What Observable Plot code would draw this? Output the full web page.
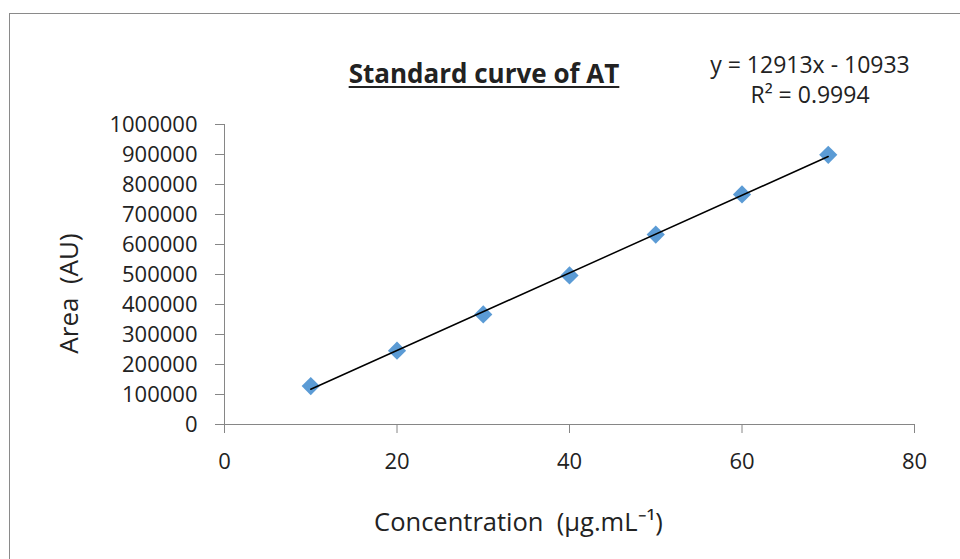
<!DOCTYPE html>
<html>
<head>
<meta charset="utf-8">
<script src="https://cdn.jsdelivr.net/npm/d3@7"></script>
<script src="https://cdn.jsdelivr.net/npm/@observablehq/plot@0.6"></script>
<style>
  html, body { margin: 0; padding: 0; background: #fff; }
  #wrap { position: relative; width: 960px; height: 559px; overflow: hidden; font-family: "Open Sans", sans-serif; color: #222; }
  #frame { position: absolute; left: 9px; top: 13px; width: 1000px; height: 600px; border-top: 1px solid #8a8a8a; border-left: 1px solid #8a8a8a; }
  #title { position: absolute; left: 484px; top: 60px; transform: translateX(-50%); font-size: 26px; line-height: 26px; font-weight: 700; white-space: nowrap; text-decoration: underline; text-decoration-thickness: 2px; text-underline-offset: 3px; }
  #eq { position: absolute; left: 810px; top: 49px; transform: translateX(-50%); font-size: 23px; line-height: 30px; text-align: center; white-space: nowrap; }
  #chart { position: absolute; left: 0; top: 0; }
  svg text { white-space: pre; }
</style>
</head>
<body>
<div id="wrap">
  <div id="frame"></div>
  <div id="chart"></div>
  <div id="title"></div>
  <div id="eq"></div>
</div>
<script>
const titleText = "Standard curve of AT";
const equationLines = ["y = 12913x - 10933", "R² = 0.9994"];
const xLabel = "Concentration  (µg.mL⁻¹)";
const yLabel = "Area  (AU)";

const concentration = [10, 20, 30, 40, 50, 60, 70];
const area = [128000, 246000, 367000, 497000, 633000, 767000, 899000];

const xTicks = [0, 20, 40, 60, 80];
const yTicks = [0, 100000, 200000, 300000, 400000, 500000, 600000, 700000, 800000, 900000, 1000000];

const data = concentration.map((c, i) => ({c, a: area[i]}));

document.getElementById("title").textContent = titleText;
document.getElementById("eq").innerHTML = equationLines.map(s => `<div>${s}</div>`).join("");

const axisGray = "#868686";

const chart = Plot.plot({
  width: 960,
  height: 559,
  marginLeft: 224,
  marginRight: 46,
  marginTop: 124,
  marginBottom: 135,
  style: {fontFamily: "Open Sans", fontSize: "22px", color: "#222", background: "transparent", overflow: "visible"},
  x: {domain: [0, 80]},
  y: {domain: [0, 1000000]},
  marks: [
    Plot.axisY({ticks: yTicks, tickFormat: d => String(d), tickSize: 9, tickPadding: 18, stroke: axisGray, label: null}),
    Plot.axisX({ticks: xTicks, tickFormat: d => String(d), tickSize: 9, tickPadding: 20, stroke: axisGray, label: null}),
    Plot.ruleX([0], {stroke: axisGray}),
    Plot.ruleY([0], {stroke: axisGray}),
    Plot.dot(data, {x: "c", y: "a", symbol: "diamond2", r: 8.2, fill: "#5B9BD5", stroke: "none"}),
    Plot.linearRegressionY(data, {x: "c", y: "a", stroke: "#000", strokeWidth: 1.5, ci: 0}),
    Plot.text([yLabel], {text: d => d, frameAnchor: "left", textAnchor: "middle", dx: -155, dy: 19, rotate: -90, fontSize: 26, lineAnchor: "middle", fill: "#222"}),
    Plot.text([xLabel], {text: d => d, frameAnchor: "bottom", textAnchor: "middle", dx: -51, dy: 98, fontSize: 25.5, lineAnchor: "middle", fill: "#222"})
  ]
});
document.getElementById("chart").appendChild(chart);
</script>
</body>
</html>
